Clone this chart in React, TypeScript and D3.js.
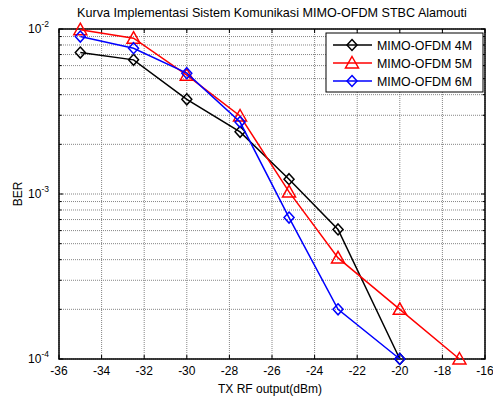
import React, { useEffect, useRef } from 'react';
import * as d3 from 'd3';

// data
const txPower = [-35, -32.5, -30, -27.5, -25.2, -22.9, -20];
const txPower5M = [-35, -32.5, -30, -27.5, -25.2, -22.9, -20, -17.2];
const ber4M = [7.2e-3, 6.5e-3, 3.75e-3, 2.38e-3, 1.23e-3, 6.1e-4, 1.0e-4];
const ber5M = [9.9e-3, 8.8e-3, 5.25e-3, 2.97e-3, 1.03e-3, 4.1e-4, 2.0e-4, 1.0e-4];
const ber6M = [9.0e-3, 7.65e-3, 5.4e-3, 2.73e-3, 7.2e-4, 2.0e-4, 1.0e-4];
const xTicks = [-36, -34, -32, -30, -28, -26, -24, -22, -20, -18, -16];
const yDecades = [-4, -3, -2];

const series = [
  { name: 'MIMO-OFDM 4M', color: '#000000', marker: 'diamond', x: txPower, y: ber4M },
  { name: 'MIMO-OFDM 5M', color: '#ff0000', marker: 'triangle', x: txPower5M, y: ber5M },
  { name: 'MIMO-OFDM 6M', color: '#0000ff', marker: 'diamond', x: txPower, y: ber6M },
];

const App = () => {
  const svgRef = useRef(null);

  useEffect(() => {
    const width = 493;
    const height = 399;
    const margin = { top: 29, right: 8, bottom: 40, left: 59 };
    const font = 'Liberation Sans, Arial, sans-serif';

    const svg = d3.select(svgRef.current);
    svg.selectAll('*').remove();
    svg.attr('width', width).attr('height', height);

    const x = d3.scaleLinear().domain([-36, -16]).range([margin.left, width - margin.right]);
    const y = d3.scaleLog().domain([1e-4, 1e-2]).range([height - margin.bottom, margin.top]);
    const [x0, x1] = x.range();
    const [y0, y1] = y.range();

    svg.append('rect').attr('width', width).attr('height', height).attr('fill', '#fff');

    // minor/major y values for the log grid
    const yGrid: number[] = [];
    for (let e = -4; e < -2; e++) {
      for (let m = 1; m <= 9; m++) yGrid.push(m * Math.pow(10, e));
    }
    yGrid.push(1e-2);

    const grid = svg.append('g').attr('stroke', '#777').attr('stroke-width', 0.9)
      .attr('stroke-dasharray', '1,1');
    xTicks.forEach((t) => {
      grid.append('line').attr('x1', x(t)).attr('x2', x(t)).attr('y1', y0).attr('y2', y1);
    });
    yGrid.forEach((v) => {
      grid.append('line').attr('x1', x0).attr('x2', x1).attr('y1', y(v)).attr('y2', y(v));
    });

    // inside tick marks on all sides
    const ticks = svg.append('g').attr('stroke', '#000').attr('stroke-width', 1);
    xTicks.forEach((t) => {
      ticks.append('line').attr('x1', x(t)).attr('x2', x(t)).attr('y1', y0).attr('y2', y0 - 4);
      ticks.append('line').attr('x1', x(t)).attr('x2', x(t)).attr('y1', y1).attr('y2', y1 + 4);
    });
    yGrid.forEach((v) => {
      const len = Math.abs(Math.log10(v) - Math.round(Math.log10(v))) < 1e-9 ? 4 : 2.5;
      ticks.append('line').attr('x1', x0).attr('x2', x0 + len).attr('y1', y(v)).attr('y2', y(v));
      ticks.append('line').attr('x1', x1).attr('x2', x1 - len).attr('y1', y(v)).attr('y2', y(v));
    });

    svg.append('rect')
      .attr('x', x0).attr('y', y1).attr('width', x1 - x0).attr('height', y0 - y1)
      .attr('fill', 'none').attr('stroke', '#000').attr('stroke-width', 1.5);

    // tick labels
    xTicks.forEach((t) => {
      svg.append('text').attr('x', x(t)).attr('y', y0 + 16)
        .attr('text-anchor', 'middle').attr('font-family', font).attr('font-size', 12)
        .text(String(t));
    });
    yDecades.forEach((e) => {
      const t = svg.append('text').attr('x', x0 - 10).attr('y', y(Math.pow(10, e)) + 4)
        .attr('text-anchor', 'end').attr('font-family', font).attr('font-size', 12);
      t.append('tspan').text('10');
      t.append('tspan').attr('dy', -6).attr('font-size', 8.5).text(String(e));
    });

    svg.append('text').attr('x', (x0 + x1) / 2 - 2).attr('y', 393)
      .attr('text-anchor', 'middle').attr('font-family', font).attr('font-size', 12)
      .text('TX RF output(dBm)');
    svg.append('text').attr('transform', `translate(22,${(y0 + y1) / 2}) rotate(-90)`)
      .attr('text-anchor', 'middle').attr('font-family', font).attr('font-size', 12)
      .text('BER');
    svg.append('text').attr('x', (x0 + x1) / 2).attr('y', 17)
      .attr('text-anchor', 'middle').attr('font-family', font).attr('font-size', 12.6)
      .text('Kurva Implementasi Sistem Komunikasi MIMO-OFDM STBC Alamouti');

    const diamond = (cx: number, cy: number) =>
      `M${cx},${cy - 5.5}L${cx + 5},${cy}L${cx},${cy + 5.5}L${cx - 5},${cy}Z`;
    const triangle = (cx: number, cy: number) =>
      `M${cx},${cy - 6.5}L${cx + 6.5},${cy + 5}L${cx - 6.5},${cy + 5}Z`;

    const drawMarker = (g: any, type: string, cx: number, cy: number, color: string) => {
      g.append('path').attr('d', type === 'diamond' ? diamond(cx, cy) : triangle(cx, cy))
        .attr('fill', 'none').attr('stroke', color).attr('stroke-width', 1.5);
    };

    const line = d3.line<[number, number]>().x((d) => x(d[0])).y((d) => y(d[1]));

    series.forEach((s) => {
      const pts: [number, number][] = s.x.map((v, i) => [v, s.y[i]]);
      const g = svg.append('g');
      g.append('path').attr('d', line(pts)).attr('fill', 'none')
        .attr('stroke', s.color).attr('stroke-width', 1.5);
      pts.forEach((p) => drawMarker(g, s.marker, x(p[0]), y(p[1]), s.color));
    });

    // legend
    const lg = svg.append('g');
    lg.append('rect').attr('x', 326).attr('y', 33).attr('width', 157).attr('height', 59)
      .attr('fill', '#fff').attr('stroke', '#000').attr('stroke-width', 1);
    series.forEach((s, i) => {
      const ly = 45 + i * 18;
      lg.append('line').attr('x1', 333).attr('x2', 372).attr('y1', ly).attr('y2', ly)
        .attr('stroke', s.color).attr('stroke-width', 1.5);
      drawMarker(lg, s.marker, 352, ly, s.color);
      lg.append('text').attr('x', 377).attr('y', ly + 4.5).attr('font-family', font)
        .attr('font-size', 12.4).text(s.name);
    });
  }, []);

  return (
    <div>
      <svg ref={svgRef} style={{ position: 'absolute', left: 0, top: 0 }}></svg>
    </div>
  );
};

export default App;
